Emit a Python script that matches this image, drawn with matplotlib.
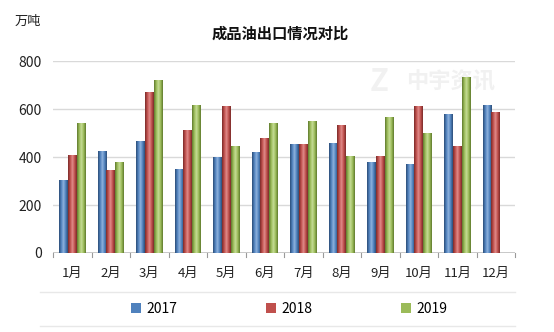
import numpy as np
import matplotlib
matplotlib.use('Agg')
import matplotlib.pyplot as plt
from matplotlib.lines import Line2D

plt.rcParams['font.family'] = ['Noto Sans CJK SC', 'DejaVu Sans']

months = ['1月', '2月', '3月', '4月', '5月', '6月',
          '7月', '8月', '9月', '10月', '11月', '12月']
years = ['2017', '2018', '2019']
v2017 = [305, 426, 467, 350, 402, 420, 455, 459, 381, 370, 580, 618]
v2018 = [410, 348, 670, 512, 614, 479, 456, 533, 406, 614, 445, 587]
v2019 = [542, 380, 721, 618, 448, 543, 550, 406, 568, 500, 733, np.nan]
yticks = [0, 200, 400, 600, 800]

colors = ['#4F81BD', '#C0504D', '#9BBB59']
dark = ['#2c4d77', '#7a2b29', '#5f7a2e']
light = ['#8fb2dd', '#e08c8a', '#c6dc96']

fig = plt.figure(figsize=(5.54, 3.32), dpi=100)
ax = fig.add_axes([0.0957, 0.238, 0.834, 0.578])

x = np.arange(len(months))
w = 0.225
series = [v2017, v2018, v2019]
# cylinder look: horizontal gradient inside each bar
grad = np.linspace(0, 1, 64)
for i, vals in enumerate(series):
    cmap = matplotlib.colors.LinearSegmentedColormap.from_list(
        'c%d' % i, [dark[i], colors[i], light[i], colors[i], dark[i]])
    bars = ax.bar(x + (i - 1) * w, vals, w, color=colors[i], label=years[i],
                  zorder=3, linewidth=0)
    for b in bars:
        h = b.get_height()
        if np.isnan(h):
            continue
        x0 = b.get_x()
        im = ax.imshow(grad[np.newaxis, :], aspect='auto', cmap=cmap,
                       extent=[x0, x0 + w, 0, h], zorder=4)
        im.set_clip_path(b)

ax.set_xlim(-0.5, 11.5)
ax.set_ylim(0, 800)
ax.set_yticks(yticks)
ax.set_yticklabels([str(t) for t in yticks], fontsize=10, color='#222222')
ax.set_xticks(x)
ax.set_xticklabels(months, fontsize=9.5, color='#222222')
ax.tick_params(axis='both', length=0, pad=8)
ax.tick_params(axis='x', pad=10)
# boundary tick marks between categories
for b in np.arange(-0.5, 12.0, 1.0):
    ax.plot([b, b], [0, -18], color='#9a9a9a', lw=0.8, clip_on=False, zorder=2)

for t in yticks[1:]:
    ax.axhline(t, color='#d9d9d9', lw=1.0, zorder=1)
ax.axhline(0, color='#bfbfbf', lw=1.2, zorder=2)
for s in ax.spines.values():
    s.set_visible(False)

fig.text(0.505, 0.90, '成品油出口情况对比', ha='center', va='center',
         fontsize=11, fontweight='bold', color='#111111')
fig.text(0.05, 0.935, '万吨', ha='center', va='center', fontsize=9.5,
         color='#222222')

# faint watermark behind the bars
ax.text(0.705, 0.89, 'Z', transform=ax.transAxes, ha='center', va='center',
        fontsize=22, fontweight='bold', color='#f1f1f1', zorder=0.5)
ax.text(0.86, 0.89, '中宇资讯', transform=ax.transAxes, ha='center',
        va='center', fontsize=16, fontweight='bold', color='#f1f1f1',
        zorder=0.5)

# legend frame
fig.add_artist(Line2D([0.072, 0.93], [0.12, 0.12], color='#e8e8e8', lw=1))
fig.add_artist(Line2D([0.072, 0.93], [0.018, 0.018], color='#e8e8e8', lw=1))
leg = fig.legend(loc='center', bbox_to_anchor=(0.522, 0.069), ncol=3,
                 frameon=False, fontsize=10, handlelength=0.7, handleheight=0.7,
                 handletextpad=0.4, columnspacing=6.4)

fig.savefig('out.png', dpi=100)
